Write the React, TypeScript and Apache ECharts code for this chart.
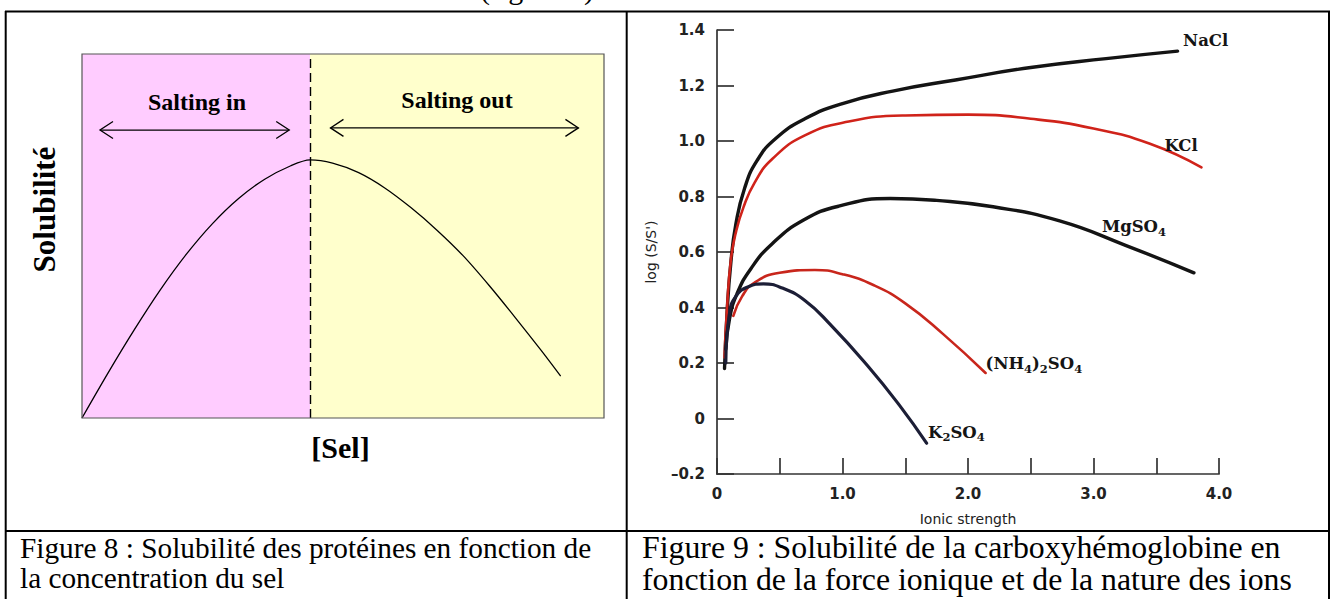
import React, { useEffect, useRef } from "react";
import * as echarts from "echarts";

// ---------- Figure 8 (schematic) ----------
const schemaX = [0, 5, 10, 15, 20, 25, 30, 35, 40, 43.7, 48, 53, 58, 63, 68, 73, 78, 83, 88, 91.7];
const schemaY = [0, 12.4, 24.2, 35.2, 45.0, 53.4, 60.3, 65.6, 69.3, 70.9, 70.0, 67.4, 63.2, 57.8, 51.6, 44.6, 36.4, 27.6, 18.5, 11.5];
const peakX = 43.7;
// [x start, x end, y] of the double arrows
const arrowRows = [
  [3.45, 39.7, 79.1],
  [47.6, 95.1, 79.7],
];
const zoneLabels = ["Salting in", "Salting out"];

// ---------- Figure 9 (log(S/S') vs ionic strength) ----------
const seriesNames = ["NaCl", "KCl", "MgSO4", "(NH4)2SO4", "K2SO4"];
const seriesLabels = [
  "{m|NaCl}",
  "{m|KCl}",
  "{m|MgSO}{s|4}",
  "{m|(NH}{s|4}{m|)}{s|2}{m|SO}{s|4}",
  "{m|K}{s|2}{m|SO}{s|4}",
];
const nacl = [[0.06, 0.18], [0.08, 0.38], [0.11, 0.56], [0.15, 0.7], [0.22, 0.83], [0.32, 0.93], [0.47, 1.01], [0.7, 1.08], [1.0, 1.135], [1.4, 1.18], [1.9, 1.22], [2.5, 1.265], [3.1, 1.297], [3.67, 1.324]];
const kcl = [[0.06, 0.22], [0.08, 0.4], [0.11, 0.57], [0.15, 0.67], [0.21, 0.76], [0.3, 0.85], [0.44, 0.935], [0.7, 1.02], [1.05, 1.07], [1.5, 1.092], [2.0, 1.095], [2.5, 1.08], [3.0, 1.045], [3.45, 0.99], [3.86, 0.905]];
const mgso4 = [[0.07, 0.25], [0.1, 0.36], [0.16, 0.45], [0.27, 0.54], [0.44, 0.63], [0.69, 0.715], [0.97, 0.765], [1.38, 0.793], [1.75, 0.786], [2.2, 0.763], [2.73, 0.712], [3.25, 0.625], [3.8, 0.525]];
const nh4so4 = [[0.13, 0.37], [0.2, 0.44], [0.3, 0.49], [0.5, 0.525], [0.78, 0.535], [1.0, 0.52], [1.25, 0.48], [1.5, 0.415], [1.8, 0.305], [2.14, 0.164]];
const k2so4 = [[0.07, 0.2], [0.1, 0.38], [0.15, 0.44], [0.25, 0.475], [0.37, 0.485], [0.52, 0.47], [0.7, 0.425], [0.9, 0.34], [1.2, 0.19], [1.45, 0.05], [1.67, -0.089]];
const seriesData = [nacl, kcl, mgso4, nh4so4, k2so4];
const seriesColors = ["#141414", "#d0231a", "#141414", "#c8261c", "#1c1e36"];
const seriesWidths = [3.4, 2.6, 3.4, 2.6, 3.2];
const labelOffsets = [[5.5, -11], [-37, -22], [-92, -46], [0, -9], [1.5, -11]];

const captions = {
  left: ["Figure 8 : Solubilité des protéines en fonction de", "la concentration du sel"],
  right: ["Figure 9 : Solubilité de la carboxyhémoglobine en", "fonction de la force ionique et de la nature des ions"],
};

const serif = "'Liberation Serif', 'Times New Roman', serif";
const sans = "'DejaVu Sans', sans-serif";
const labelSerif = "'DejaVu Serif', serif";

function fmtY(v: number) {
  const r = Math.round(v * 10) / 10;
  if (Math.abs(r) < 1e-9) return "0";
  if (r < 0) return "–" + Math.abs(r).toFixed(1);
  return r.toFixed(1);
}
function fmtX(v: number) {
  const r = Math.round(v * 10) / 10;
  if (Math.abs(r - Math.round(r)) > 1e-6) return "";
  if (r === 0) return "0";
  return r.toFixed(1);
}

function buildOption(): any {
  const lineEls: any[] = [];
  const hl = (x1: number, y1: number, x2: number, y2: number) =>
    lineEls.push({ type: "line", shape: { x1, y1, x2, y2 }, style: { stroke: "#000", lineWidth: 2 }, z: 50 });
  hl(5, 11.5, 1330, 11.5);
  hl(5.7, 11, 5.7, 600);
  hl(626.7, 11, 626.7, 600);
  hl(1329, 11, 1329, 600);
  hl(5, 531, 1330, 531);

  const texts: any[] = [
    { type: "text", x: 480, y: -12, style: { text: "(figure 8)", font: `30px ${serif}`, fill: "#000", verticalAlign: "middle" } },
    { type: "text", x: 197, y: 102, style: { text: zoneLabels[0], font: `bold 24px ${serif}`, fill: "#000", align: "center", verticalAlign: "middle" }, z: 20 },
    { type: "text", x: 457, y: 100, style: { text: zoneLabels[1], font: `bold 24px ${serif}`, fill: "#000", align: "center", verticalAlign: "middle" }, z: 20 },
    { type: "text", x: 44.5, y: 209.5, rotation: Math.PI / 2, style: { text: "Solubilité", font: `bold 31px ${serif}`, fill: "#000", align: "center", verticalAlign: "middle" } },
    { type: "text", x: 340.5, y: 447.5, style: { text: "[Sel]", font: `bold 30px ${serif}`, fill: "#000", align: "center", verticalAlign: "middle" } },
    { type: "text", x: 20, y: 548, style: { text: captions.left[0], font: `29.3px ${serif}`, fill: "#000", verticalAlign: "middle" } },
    { type: "text", x: 20, y: 578, style: { text: captions.left[1], font: `29.3px ${serif}`, fill: "#000", verticalAlign: "middle" } },
    { type: "text", x: 642, y: 547, style: { text: captions.right[0], font: `31.8px ${serif}`, fill: "#000", verticalAlign: "middle" } },
    { type: "text", x: 642, y: 579, style: { text: captions.right[1], font: `31.8px ${serif}`, fill: "#000", verticalAlign: "middle" } },
  ];

  const rightSeries = seriesData.map((d, i) => ({
    name: seriesNames[i],
    type: "line",
    xAxisIndex: 1,
    yAxisIndex: 1,
    data: d,
    smooth: 0.5,
    showSymbol: false,
    symbol: "none",
    lineStyle: { color: seriesColors[i], width: seriesWidths[i], cap: "round" },
    itemStyle: { color: seriesColors[i] },
    endLabel: {
      show: true,
      formatter: seriesLabels[i],
      distance: 0,
      offset: labelOffsets[i],
      align: "left",
      verticalAlign: "middle",
      rich: {
        m: { fontFamily: labelSerif, fontWeight: "bold", fontSize: 16.5, color: "#151515", lineHeight: 22, verticalAlign: "middle" },
        s: { fontFamily: labelSerif, fontWeight: "bold", fontSize: 11.5, color: "#151515", lineHeight: 12, verticalAlign: "bottom" },
      },
    },
    z: 3,
  }));

  return {
    animation: false,
    backgroundColor: "#fff",
    grid: [
      { left: 82, top: 54, width: 522, height: 364, show: true, borderColor: "#555", borderWidth: 1.2, backgroundColor: "transparent", z: 10, outerBoundsMode: "none" },
      { left: 717, top: 30, width: 502, height: 444, show: false, outerBoundsMode: "none" },
    ],
    xAxis: [
      { gridIndex: 0, type: "value", min: 0, max: 100, show: false },
      {
        gridIndex: 1,
        type: "value",
        min: 0,
        max: 4,
        interval: 0.5,
        splitLine: { show: false },
        axisLine: { show: true, onZero: false, lineStyle: { color: "#333", width: 1.7 } },
        axisTick: { show: true, inside: true, length: 16, lineStyle: { color: "#333", width: 1.7 } },
        axisLabel: { formatter: fmtX, margin: 12, fontFamily: sans, fontSize: 15, fontWeight: "bold", color: "#222" },
        name: "Ionic strength",
        nameLocation: "middle",
        nameGap: 38,
        nameTextStyle: { fontFamily: sans, fontSize: 14, color: "#222" },
      },
    ],
    yAxis: [
      { gridIndex: 0, type: "value", min: 0, max: 100, show: false },
      {
        gridIndex: 1,
        type: "value",
        min: -0.2,
        max: 1.4,
        interval: 0.2,
        splitLine: { show: false },
        axisLine: { show: true, onZero: false, lineStyle: { color: "#333", width: 1.7 } },
        axisTick: { show: true, inside: true, length: 17, lineStyle: { color: "#333", width: 1.7 } },
        axisLabel: { formatter: fmtY, margin: 12, fontFamily: sans, fontSize: 15, fontWeight: "bold", color: "#222" },
        name: "log (S/S')",
        nameLocation: "middle",
        nameRotate: 90,
        nameGap: 59,
        nameTextStyle: { fontFamily: sans, fontSize: 14, color: "#222" },
      },
    ],
    series: [
      {
        name: "Solubilité",
        type: "line",
        xAxisIndex: 0,
        yAxisIndex: 0,
        data: schemaX.map((x, i) => [x, schemaY[i]]),
        smooth: 0.3,
        showSymbol: false,
        symbol: "none",
        lineStyle: { color: "#000", width: 1.3 },
        z: 4,
        markArea: {
          silent: true,
          data: [
            [{ xAxis: 0, itemStyle: { color: "#ffccff" } }, { xAxis: peakX }],
            [{ xAxis: peakX, itemStyle: { color: "#ffffcc" } }, { xAxis: 100 }],
          ],
        },
        markLine: {
          silent: true,
          symbol: "none",
          label: { show: false },
          lineStyle: { color: "#000", width: 1.4, type: [9, 5] },
          data: [{ xAxis: peakX }],
        },
      },
      {
        name: "arrows",
        type: "custom",
        xAxisIndex: 0,
        yAxisIndex: 0,
        data: arrowRows,
        encode: { x: [0, 1], y: 2 },
        z: 5,
        renderItem: (_params: any, api: any) => {
          const a = api.coord([api.value(0), api.value(2)]);
          const b = api.coord([api.value(1), api.value(2)]);
          const st = { stroke: "#000", lineWidth: 1.3, fill: "none" };
          return {
            type: "group",
            children: [
              { type: "line", shape: { x1: a[0], y1: a[1], x2: b[0], y2: b[1] }, style: st },
              { type: "polyline", shape: { points: [[a[0] + 13, a[1] - 8.5], [a[0], a[1]], [a[0] + 13, a[1] + 8.5]] }, style: st },
              { type: "polyline", shape: { points: [[b[0] - 13, b[1] - 8.5], [b[0], b[1]], [b[0] - 13, b[1] + 8.5]] }, style: st },
            ],
          };
        },
      },
      ...rightSeries,
    ],
    graphic: { elements: [...lineEls, ...texts] },
  };
}

export default function App() {
  const ref = useRef<HTMLDivElement>(null);
  useEffect(() => {
    if (!ref.current) return;
    const chart = echarts.init(ref.current, null, { renderer: "svg" });
    chart.setOption(buildOption());
    return () => chart.dispose();
  }, []);
  return (
    <div
      ref={ref}
      style={{ position: "fixed", left: 0, top: 0, width: 1332, height: 599, background: "#fff" }}
    />
  );
}
